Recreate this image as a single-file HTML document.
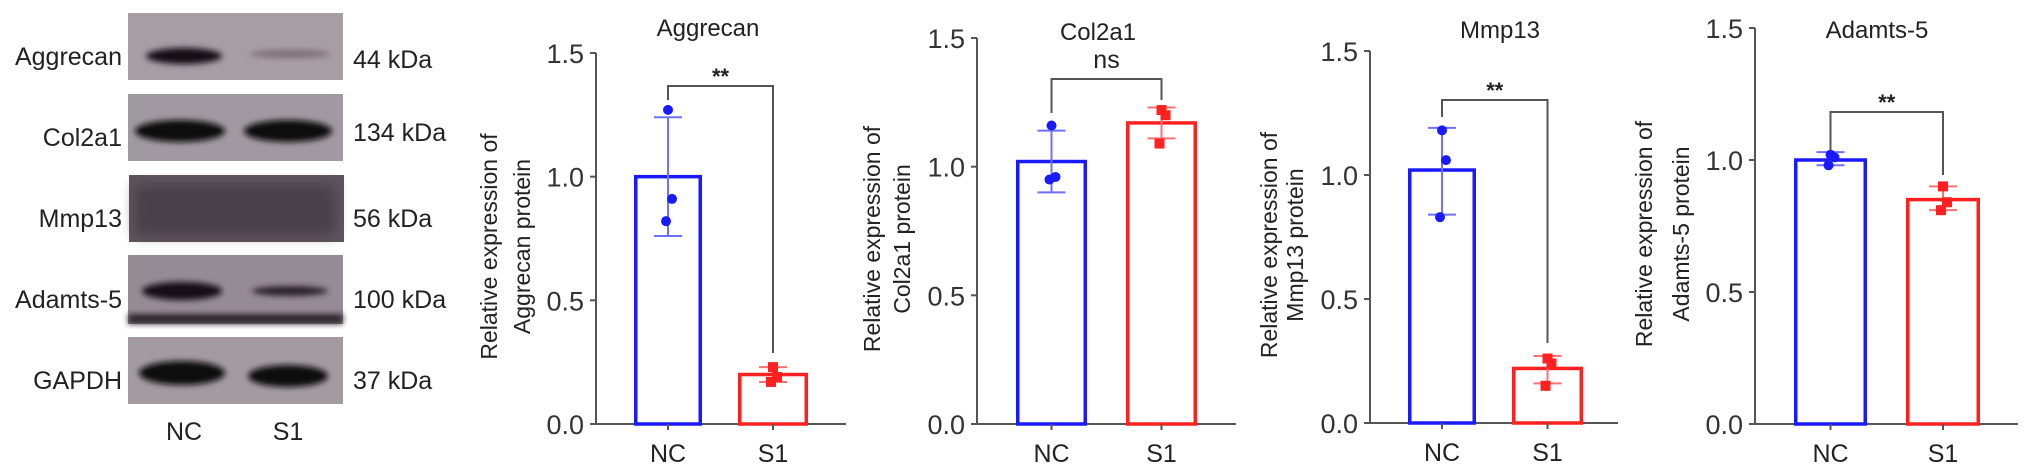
<!DOCTYPE html>
<html><head><meta charset="utf-8"><style>
html,body{margin:0;padding:0;background:#fff;}
svg{display:block;font-family:"Liberation Sans",Arial,sans-serif;}
</style></head><body>
<svg id="fig" width="2032" height="472" viewBox="0 0 2032 472">
<defs>
<filter id="blur" x="-20%" y="-50%" width="140%" height="200%"><feGaussianBlur stdDeviation="3"/></filter>
<filter id="blur2" x="-20%" y="-50%" width="140%" height="200%"><feGaussianBlur stdDeviation="6"/></filter>
</defs>
<g id="blot">
  <g>
    <rect x="128" y="13" width="215" height="67" fill="#a69da5"/>
    <ellipse cx="184" cy="56" rx="38" ry="8" fill="#151015" filter="url(#blur)"/>
    <ellipse cx="290" cy="54" rx="40" ry="4" fill="#7d7079" filter="url(#blur)"/>
    <text x="122" y="65" font-size="25" text-anchor="end" fill="#222">Aggrecan</text>
    <text x="353" y="68" font-size="25" fill="#222">44 kDa</text>
  </g>
  <g>
    <rect x="128" y="94" width="215" height="67" fill="#a199a1"/>
    <ellipse cx="180" cy="131" rx="45" ry="11" fill="#100b10" filter="url(#blur)"/>
    <ellipse cx="288" cy="131" rx="44" ry="11" fill="#100b10" filter="url(#blur)"/>
    <text x="122" y="146" font-size="25" text-anchor="end" fill="#222">Col2a1</text>
    <text x="353" y="141" font-size="25" fill="#222">134 kDa</text>
  </g>
  <g>
    <rect x="129" y="175" width="215" height="67" fill="#5e545d"/>
    <rect x="135" y="185" width="200" height="50" fill="#4a404a" filter="url(#blur2)"/>
    <text x="122" y="227" font-size="25" text-anchor="end" fill="#222">Mmp13</text>
    <text x="353" y="227" font-size="25" fill="#222">56 kDa</text>
  </g>
  <g>
    <rect x="128" y="255" width="215" height="69" fill="#958b94"/>
    <ellipse cx="182" cy="291" rx="40" ry="9" fill="#141014" filter="url(#blur)"/>
    <ellipse cx="290" cy="291" rx="38" ry="5" fill="#2c242b" filter="url(#blur)"/>
    <rect x="128" y="314" width="215" height="10" fill="#2f282f" filter="url(#blur)"/>
    <text x="122" y="308" font-size="25" text-anchor="end" fill="#222">Adamts-5</text>
    <text x="353" y="308" font-size="25" fill="#222">100 kDa</text>
  </g>
  <g>
    <rect x="128" y="337" width="215" height="67" fill="#a39aa2"/>
    <ellipse cx="182" cy="373" rx="43" ry="12" fill="#0e0a0e" filter="url(#blur)"/>
    <ellipse cx="288" cy="376" rx="40" ry="11" fill="#0e0a0e" filter="url(#blur)"/>
    <text x="122" y="389" font-size="25" text-anchor="end" fill="#222">GAPDH</text>
    <text x="353" y="389" font-size="25" fill="#222">37 kDa</text>
  </g>
  <text x="184" y="440" font-size="25" text-anchor="middle" fill="#222">NC</text>
  <text x="288" y="440" font-size="25" text-anchor="middle" fill="#222">S1</text>
</g>
</svg>
<script>
// Data arrays
const categories = ["NC", "S1"];
const chartTitles = ["Aggrecan", "Col2a1", "Mmp13", "Adamts-5"];
const yTicks = [0.0, 0.5, 1.0, 1.5];
const yTickLabels = ["0.0", "0.5", "1.0", "1.5"];
const ncMeans = [1.00, 1.02, 1.02, 1.00];
const s1Means = [0.20, 1.17, 0.22, 0.85];
const ncErrLow = [0.76, 0.90, 0.84, 0.98];
const ncErrHigh = [1.24, 1.14, 1.19, 1.03];
const s1ErrLow = [0.17, 1.11, 0.16, 0.81];
const s1ErrHigh = [0.23, 1.23, 0.27, 0.90];
const ncPoints = [[1.27, 0.91, 0.82], [1.16, 0.96, 0.95], [1.18, 1.06, 0.83], [1.02, 1.01, 0.98]];
const s1Points = [[0.23, 0.19, 0.17], [1.22, 1.20, 1.09], [0.26, 0.24, 0.15], [0.90, 0.84, 0.81]];
const sigLabels = ["**", "ns", "**", "**"];

// Layout (pixels, not data)
const layouts = [
  {ax:596, y15:53, y0:424, axEnd:846, bars:[[634,702],[738,808]], titleX:708, titleY:36, sigY:86, sigTextY:84, legL:100, legR:353, ylx:[497,530]},
  {ax:977, y15:38, y0:424, axEnd:1236, bars:[[1016,1087],[1126,1197]], titleX:1098, titleY:40, sigY:79, sigTextY:68, legL:113, legR:100, ylx:[880,910]},
  {ax:1370, y15:51, y0:423, axEnd:1618, bars:[[1408,1476],[1512,1583]], titleX:1500, titleY:38, sigY:100, sigTextY:98, legL:117, legR:343, ylx:[1277,1303]},
  {ax:1755, y15:28, y0:424, axEnd:2018, bars:[[1794,1867],[1906,1980]], titleX:1877, titleY:38, sigY:112, sigTextY:110, legL:150, legR:175, ylx:[1652,1689]}
];
const colors = ["#1a1aff", "#ff2020"];
const errColors = ["#7070ff", "#ff7070"];
const NS = "http://www.w3.org/2000/svg";
const svg = document.getElementById("fig");
function mk(tag, attrs, parent) {
  const e = document.createElementNS(NS, tag);
  for (const k in attrs) e.setAttribute(k, attrs[k]);
  parent.appendChild(e);
  return e;
}
chartTitles.forEach((title, i) => {
  const L = layouts[i];
  const y = v => L.y0 - (v / 1.5) * (L.y0 - L.y15);
  const g = mk("g", {}, svg);
  
  
  const t = mk("text", {x:L.titleX, y:L.titleY, "font-size":24, "text-anchor":"middle", fill:"#222"}, g);
  t.textContent = title;
  
  
  // y label
  const yl = mk("text", {transform:`translate(${L.ylx[0]},${(L.y0+L.y15)/2+8}) rotate(-90)`, "font-size":23, "text-anchor":"middle", fill:"#222"}, g);
  yl.textContent = "Relative expression of";
  
  
  const yl2 = mk("text", {transform:`translate(${L.ylx[1]},${(L.y0+L.y15)/2+8}) rotate(-90)`, "font-size":23, "text-anchor":"middle", fill:"#222"}, g);
  yl2.textContent = title + " protein";
  
  
  // axes
  const ya = mk("line", {x1:L.ax, x2:L.ax, y1:y(1.5), y2:y(0), stroke:"#555", "stroke-width":2}, g);
  
  
  const xa = mk("line", {x1:L.ax, x2:L.axEnd, y1:y(0), y2:y(0), stroke:"#555", "stroke-width":2}, g);
  
  
  yTicks.forEach((tv, k) => {
    const tk = mk("line", {x1:L.ax-6, x2:L.ax, y1:y(tv), y2:y(tv), stroke:"#555", "stroke-width":2}, g);
    
    
    const tl = mk("text", {x:L.ax-12, y:y(tv)+10, "font-size":27, "text-anchor":"end", fill:"#333"}, g);
    tl.textContent = yTickLabels[k];
    
    
  });
  const means = [ncMeans[i], s1Means[i]];
  const lows = [ncErrLow[i], s1ErrLow[i]];
  const highs = [ncErrHigh[i], s1ErrHigh[i]];
  const pts = [ncPoints[i], s1Points[i]];
  categories.forEach((c, j) => {
    const [bx0, bx1] = L.bars[j];
    const cx = (bx0 + bx1) / 2;
    const bar = mk("rect", {x:bx0+1.75, y:y(means[j]), width:bx1-bx0-3.5, height:y(0)-y(means[j]), fill:"none", stroke:colors[j], "stroke-width":3.5}, g);
    
    
    const xt = mk("line", {x1:cx, x2:cx, y1:y(0), y2:y(0)+6, stroke:"#555", "stroke-width":2}, g);
    
    
    const xl = mk("text", {x:cx, y:y(0)+38, "font-size":25, "text-anchor":"middle", fill:"#222"}, g);
    xl.textContent = c;
    
    
    const eb = mk("path", {d:`M${cx},${y(lows[j])}V${y(highs[j])}M${cx-14},${y(lows[j])}h28M${cx-14},${y(highs[j])}h28`, stroke:errColors[j], "stroke-width":2, fill:"none"}, g);
    
    
    pts[j].forEach((p, k) => {
      const off = [0, 4, -2][k];
      const shape = j === 0
        ? mk("circle", {cx:cx+off, cy:y(p), r:5, fill:colors[j]}, g)
        : mk("rect", {x:cx+off-5, y:y(p)-5, width:10, height:10, fill:colors[j]}, g);
      
      
    });
  });
  const c0 = (L.bars[0][0] + L.bars[0][1]) / 2, c1 = (L.bars[1][0] + L.bars[1][1]) / 2;
  const br = mk("path", {d:`M${c0},${L.legL}V${L.sigY}H${c1}V${L.legR}`, stroke:"#555", "stroke-width":2, fill:"none"}, g);
  
  
  const st = mk("text", {x:(c0+c1)/2, y:L.sigTextY, "font-size":sigLabels[i]==="ns"?25:22, "text-anchor":"middle", fill:"#222", "font-weight":sigLabels[i]==="ns"?"normal":"bold"}, g);
  st.textContent = sigLabels[i];
  
  
});
</script>
</body></html>
